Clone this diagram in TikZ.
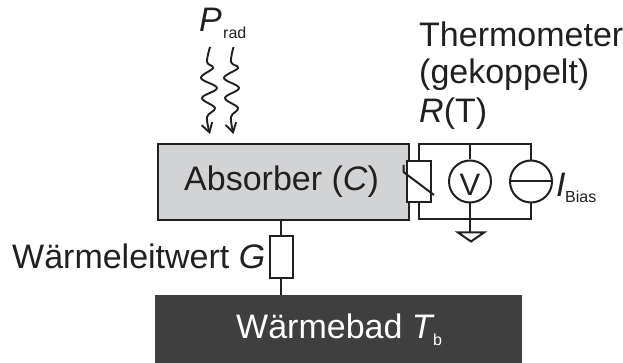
\documentclass[tikz,border=0pt]{standalone}
\usepackage{fontspec}
\setmainfont{Liberation Sans}
\usetikzlibrary{arrows.meta}
\definecolor{lineblack}{HTML}{231F20}
\definecolor{absgray}{HTML}{D1D3D4}
\definecolor{bathgray}{HTML}{3F3F3F}
\newcommand{\bigfont}{\fontsize{34}{34}\selectfont}
\newcommand{\subfont}{\fontsize{16}{16}\selectfont}
\tikzset{
  x=1pt,y=-1pt,
  wire/.style={draw=lineblack,line width=2pt},
  txt/.style={inner sep=0pt,text=lineblack,anchor=base west},
  element/.style={draw=lineblack,line width=2pt,fill=white,inner sep=0pt},
  meter/.style={element,circle,minimum size=42pt},
  wavy/.style={draw=lineblack,line width=1.9pt,smooth,tension=0.6,-{Straight Barb[length=9pt,width=11pt,line width=1.9pt]}},
}
\begin{document}
\begin{tikzpicture}
\useasboundingbox (0,0) rectangle (623,363);
% blocks
\node[draw=lineblack,line width=2pt,fill=absgray,minimum width=251pt,minimum height=76pt,inner sep=0pt,anchor=north west] (abs) at (157,143.5) {};
\node[fill=bathgray,minimum width=367pt,minimum height=68pt,inner sep=0pt,anchor=north west] (bath) at (155,295) {};
\node[txt] (abstxt) at (184,191) {\bigfont Absorber (\textit{C})};
\node[txt,text=white] (bathtxt) at (236,338) {\bigfont Wärmebad \textit{T}};
\node[txt,text=white] (bathsub) at (433,345) {\subfont b};
% thermal link
\node[element,minimum width=23pt,minimum height=41pt] (G) at (281,257) {};
\draw[wire] (G.north |- abs.south) -- (G.north);
\draw[wire] (G.south) -- (G.south |- bath.north);
\node[txt] (Gtxt) at (12,268) {\bigfont Wärmeleitwert \textit{G}};
% thermometer circuit
\coordinate (tl) at (418.5,144);
\coordinate (tr) at (531,144);
\coordinate (bl) at (418.5,219);
\coordinate (br) at (531,219);
\coordinate (vt) at (470,144);
\coordinate (vb) at (470,219);
\coordinate (gnd) at (470,232);
\draw[wire] (bl) -- (tl) -- (tr) -- (br) -- cycle;
\node[element,minimum width=24pt,minimum height=41pt] (Rt) at (419,181.5) {};
\draw[wire,line join=round] (403.5,165) -- (403.5,172) -- (434,195);
\node[meter] (V) at (470,181.5) {};
\node[txt,anchor=center] at (470,184.5) (Vtxt) {\fontsize{31}{31}\selectfont V};
\node[meter] (I) at (531,181.5) {};
\draw[wire] (I.west) -- (I.east);
\draw[wire] (vt) -- (V.north);
\draw[wire] (V.south) -- (gnd);
\draw[wire,line join=miter] (458,232.5) -- (484,232.5) -- (471,241.5) -- cycle;
\node[txt] (Itxt) at (556,197) {\bigfont\textit{I}};
\node[txt] (Isub) at (565,203) {\subfont Bias};
% labels
\node[txt] (Ptxt) at (199,32) {\bigfont\textit{P}};
\node[txt] (Psub) at (223,39) {\subfont rad};
\node[txt] (th1) at (419,47) {\bigfont Thermometer};
\node[txt] (th2) at (419,84) {\bigfont (gekoppelt)};
\node[txt] (th3) at (419,123) {\bigfont\textit{R}(T)};
% radiation arrows
\draw[wavy] plot coordinates {(210,47) (207,62) (213,68) (201,78) (217,88) (202,98) (215,108) (207,117) (210,134)};
\draw[wavy] plot coordinates {(233.5,47) (231,62) (238,68) (224,78) (239,88) (225,98) (238,108) (231,117) (233.5,134)};
\end{tikzpicture}
\end{document}
